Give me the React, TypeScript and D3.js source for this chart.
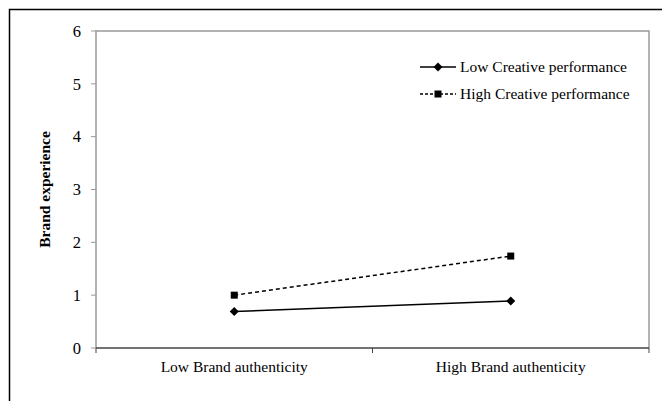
import React from "react";
import * as d3 from "d3";

const categories = ["Low Brand authenticity", "High Brand authenticity"];
const seriesNames = ["Low Creative performance", "High Creative performance"];
const lowCreative = [0.69, 0.89];
const highCreative = [1.0, 1.74];
const yTicks = [0, 1, 2, 3, 4, 5, 6];

export default function App() {
  const W = 662, H = 401;
  const left = 96, right = 649, top = 31, bottom = 348;
  const x = d3.scaleBand().domain(categories).range([left, right]);
  const y = d3.scaleLinear().domain([0, 6]).range([bottom, top]);
  const cx = (c: string) => (x(c) as number) + x.bandwidth() / 2;
  const line = d3.line<number>().x((_, i) => cx(categories[i])).y((v) => y(v));
  const font = "'Liberation Serif', 'Times New Roman', serif";
  const diamond = (px: number, py: number, r = 4.5) =>
    `M${px},${py - r}L${px + r},${py}L${px},${py + r}L${px - r},${py}Z`;
  const series = [
    { name: seriesNames[0], values: lowCreative, dash: undefined as string | undefined, marker: "diamond" },
    { name: seriesNames[1], values: highCreative, dash: "4,3", marker: "square" },
  ];
  const marker = (m: string, px: number, py: number, key: string) =>
    m === "diamond" ? (
      <path key={key} d={diamond(px, py)} fill="#000" />
    ) : (
      <rect key={key} x={px - 3.5} y={py - 3.5} width={7} height={7} fill="#000" />
    );
  return (
    <svg width={W} height={H} style={{ position: "absolute", left: 0, top: 0 }} fontFamily={font}>
      <rect x={0} y={0} width={W} height={H} fill="#fff" />
      <path d={`M9.5,${H}V9.5H${W}`} fill="none" stroke="#000" strokeWidth={1.5} />
      <path d={`M${left},${bottom}V${top}H${right}V${bottom}`} fill="none" stroke="#999" strokeWidth={1.5} />
      {yTicks.map((t) => (
        <g key={t}>
          <line x1={left - 5} x2={left} y1={y(t)} y2={y(t)} stroke="#999" strokeWidth={1} />
          <text x={left - 15} y={y(t)} dy="0.35em" textAnchor="end" fontSize={16.5} fill="#000">
            {t}
          </text>
        </g>
      ))}
      <line x1={left} x2={right} y1={bottom} y2={bottom} stroke="#444" strokeWidth={1.5} />
      {[left, left + x.step(), right].map((tx, i) => (
        <line key={i} x1={tx} x2={tx} y1={bottom} y2={bottom + 5} stroke="#444" strokeWidth={1} />
      ))}
      {categories.map((c) => (
        <text key={c} x={cx(c)} y={bottom + 24} textAnchor="middle" fontSize={15.5} fill="#000">
          {c}
        </text>
      ))}
      <text
        transform={`translate(50,${(top + bottom) / 2}) rotate(-90)`}
        textAnchor="middle"
        fontSize={15.5}
        fontWeight="bold"
        fill="#000"
      >
        Brand experience
      </text>
      {series.map((s, si) => (
        <g key={s.name}>
          <path d={line(s.values) || ""} fill="none" stroke="#000" strokeWidth={1.5} strokeDasharray={s.dash} />
          {s.values.map((v, i) => marker(s.marker, cx(categories[i]), y(v), `${si}-${i}`))}
        </g>
      ))}
      {series.map((s, si) => {
        const ly = 67 + si * 27;
        return (
          <g key={"leg" + si}>
            <line x1={420} x2={456} y1={ly} y2={ly} stroke="#000" strokeWidth={1.3} strokeDasharray={s.dash ? "3,2" : undefined} />
            {marker(s.marker, 438, ly, "lm" + si)}
            <text x={460} y={ly} dy="0.35em" fontSize={15.5} fill="#000">
              {s.name}
            </text>
          </g>
        );
      })}
    </svg>
  );
}
